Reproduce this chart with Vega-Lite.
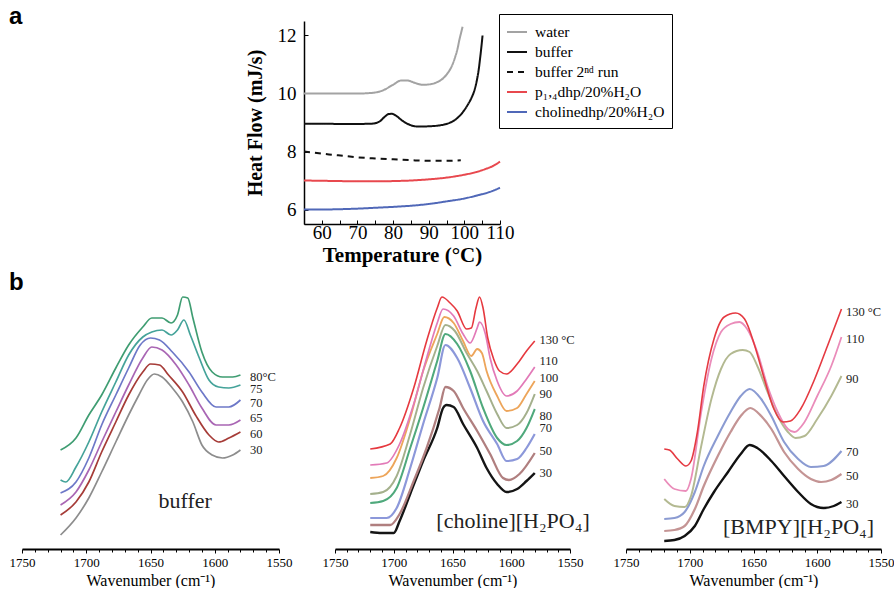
{
  "$schema": "https://vega.github.io/schema/vega-lite/v6.json",
  "background": "white",
  "padding": {"left": 9, "top": 4, "right": 0, "bottom": 0},
  "config": {
    "view": {"stroke": null},
    "font": "Liberation Serif",
    "axis": {"domainColor": "black", "tickColor": "black", "labelColor": "black", "titleColor": "black", "grid": false, "labelFlush": false, "labelOverlap": false}
  },
  "spacing": 6,
  "resolve": {"scale": {"color": "independent", "strokeDash": "independent", "strokeWidth": "independent"}},
  "datasets": {
    "dsc": [
      {"series": "water", "T": 55, "hf": 10.0}, {"series": "water", "T": 60, "hf": 10.0}, {"series": "water", "T": 65, "hf": 10.0}, {"series": "water", "T": 70, "hf": 10.0}, {"series": "water", "T": 74, "hf": 10.02}, {"series": "water", "T": 77, "hf": 10.1}, {"series": "water", "T": 80, "hf": 10.3}, {"series": "water", "T": 82.3, "hf": 10.45}, {"series": "water", "T": 84, "hf": 10.45}, {"series": "water", "T": 86, "hf": 10.37}, {"series": "water", "T": 88.3, "hf": 10.3}, {"series": "water", "T": 90.5, "hf": 10.32}, {"series": "water", "T": 92.5, "hf": 10.4}, {"series": "water", "T": 94, "hf": 10.52}, {"series": "water", "T": 95.3, "hf": 10.7}, {"series": "water", "T": 96.5, "hf": 10.95}, {"series": "water", "T": 97.4, "hf": 11.25}, {"series": "water", "T": 98.1, "hf": 11.55}, {"series": "water", "T": 98.6, "hf": 11.85}, {"series": "water", "T": 99.1, "hf": 12.1}, {"series": "water", "T": 99.5, "hf": 12.3},
      {"series": "buffer", "T": 55, "hf": 8.96}, {"series": "buffer", "T": 60, "hf": 8.96}, {"series": "buffer", "T": 65, "hf": 8.95}, {"series": "buffer", "T": 70, "hf": 8.95}, {"series": "buffer", "T": 74, "hf": 8.96}, {"series": "buffer", "T": 76, "hf": 9.02}, {"series": "buffer", "T": 77.5, "hf": 9.18}, {"series": "buffer", "T": 78.7, "hf": 9.29}, {"series": "buffer", "T": 79.7, "hf": 9.3}, {"series": "buffer", "T": 81, "hf": 9.22}, {"series": "buffer", "T": 82.5, "hf": 9.07}, {"series": "buffer", "T": 84.5, "hf": 8.93}, {"series": "buffer", "T": 87, "hf": 8.86}, {"series": "buffer", "T": 90, "hf": 8.87}, {"series": "buffer", "T": 93, "hf": 8.9}, {"series": "buffer", "T": 95.5, "hf": 8.97}, {"series": "buffer", "T": 97.5, "hf": 9.1}, {"series": "buffer", "T": 99.2, "hf": 9.3}, {"series": "buffer", "T": 100.9, "hf": 9.6}, {"series": "buffer", "T": 102, "hf": 9.85}, {"series": "buffer", "T": 102.8, "hf": 10.1}, {"series": "buffer", "T": 103.5, "hf": 10.45}, {"series": "buffer", "T": 104, "hf": 10.8}, {"series": "buffer", "T": 104.5, "hf": 11.3}, {"series": "buffer", "T": 104.9, "hf": 11.75}, {"series": "buffer", "T": 105.1, "hf": 12.0},
      {"series": "buffer 2ⁿᵈ run", "T": 55, "hf": 8.0}, {"series": "buffer 2ⁿᵈ run", "T": 58, "hf": 7.96}, {"series": "buffer 2ⁿᵈ run", "T": 62, "hf": 7.9}, {"series": "buffer 2ⁿᵈ run", "T": 66, "hf": 7.85}, {"series": "buffer 2ⁿᵈ run", "T": 70, "hf": 7.8}, {"series": "buffer 2ⁿᵈ run", "T": 75, "hf": 7.76}, {"series": "buffer 2ⁿᵈ run", "T": 80, "hf": 7.73}, {"series": "buffer 2ⁿᵈ run", "T": 85, "hf": 7.7}, {"series": "buffer 2ⁿᵈ run", "T": 90, "hf": 7.68}, {"series": "buffer 2ⁿᵈ run", "T": 95, "hf": 7.68}, {"series": "buffer 2ⁿᵈ run", "T": 99, "hf": 7.7},
      {"series": "p₁,₄dhp/20%H₂O", "T": 55, "hf": 7.0}, {"series": "p₁,₄dhp/20%H₂O", "T": 60, "hf": 6.99}, {"series": "p₁,₄dhp/20%H₂O", "T": 65, "hf": 6.98}, {"series": "p₁,₄dhp/20%H₂O", "T": 70, "hf": 6.97}, {"series": "p₁,₄dhp/20%H₂O", "T": 75, "hf": 6.97}, {"series": "p₁,₄dhp/20%H₂O", "T": 80, "hf": 6.98}, {"series": "p₁,₄dhp/20%H₂O", "T": 85, "hf": 7.0}, {"series": "p₁,₄dhp/20%H₂O", "T": 90, "hf": 7.04}, {"series": "p₁,₄dhp/20%H₂O", "T": 95, "hf": 7.1}, {"series": "p₁,₄dhp/20%H₂O", "T": 100, "hf": 7.2}, {"series": "p₁,₄dhp/20%H₂O", "T": 103, "hf": 7.28}, {"series": "p₁,₄dhp/20%H₂O", "T": 106, "hf": 7.4}, {"series": "p₁,₄dhp/20%H₂O", "T": 108, "hf": 7.5}, {"series": "p₁,₄dhp/20%H₂O", "T": 110, "hf": 7.65},
      {"series": "cholinedhp/20%H₂O", "T": 55, "hf": 6.0}, {"series": "cholinedhp/20%H₂O", "T": 60, "hf": 6.0}, {"series": "cholinedhp/20%H₂O", "T": 65, "hf": 6.01}, {"series": "cholinedhp/20%H₂O", "T": 70, "hf": 6.03}, {"series": "cholinedhp/20%H₂O", "T": 75, "hf": 6.06}, {"series": "cholinedhp/20%H₂O", "T": 80, "hf": 6.09}, {"series": "cholinedhp/20%H₂O", "T": 85, "hf": 6.13}, {"series": "cholinedhp/20%H₂O", "T": 90, "hf": 6.19}, {"series": "cholinedhp/20%H₂O", "T": 95, "hf": 6.28}, {"series": "cholinedhp/20%H₂O", "T": 100, "hf": 6.38}, {"series": "cholinedhp/20%H₂O", "T": 104, "hf": 6.5}, {"series": "cholinedhp/20%H₂O", "T": 107, "hf": 6.6}, {"series": "cholinedhp/20%H₂O", "T": 110, "hf": 6.75}
    ],
    "b1": [
      {"temp": "30", "w": 1720, "a": 0.14}, {"temp": "30", "w": 1708, "a": 0.31}, {"temp": "30", "w": 1698, "a": 0.51}, {"temp": "30", "w": 1688, "a": 0.77}, {"temp": "30", "w": 1677, "a": 1.07}, {"temp": "30", "w": 1667, "a": 1.34}, {"temp": "30", "w": 1659, "a": 1.54}, {"temp": "30", "w": 1652.5, "a": 1.69}, {"temp": "30", "w": 1647, "a": 1.75}, {"temp": "30", "w": 1641, "a": 1.72}, {"temp": "30", "w": 1633, "a": 1.61}, {"temp": "30", "w": 1625, "a": 1.47}, {"temp": "30", "w": 1617, "a": 1.27}, {"temp": "30", "w": 1610, "a": 1.04}, {"temp": "30", "w": 1602, "a": 0.94}, {"temp": "30", "w": 1594, "a": 0.91}, {"temp": "30", "w": 1586, "a": 0.94}, {"temp": "30", "w": 1580, "a": 0.99},
      {"temp": "60", "w": 1720, "a": 0.34}, {"temp": "60", "w": 1708, "a": 0.47}, {"temp": "60", "w": 1698, "a": 0.67}, {"temp": "60", "w": 1688, "a": 0.97}, {"temp": "60", "w": 1677, "a": 1.27}, {"temp": "60", "w": 1667, "a": 1.54}, {"temp": "60", "w": 1656, "a": 1.77}, {"temp": "60", "w": 1650, "a": 1.85}, {"temp": "60", "w": 1643, "a": 1.84}, {"temp": "60", "w": 1636, "a": 1.74}, {"temp": "60", "w": 1625, "a": 1.57}, {"temp": "60", "w": 1615, "a": 1.34}, {"temp": "60", "w": 1604.5, "a": 1.14}, {"temp": "60", "w": 1597, "a": 1.07}, {"temp": "60", "w": 1589, "a": 1.11}, {"temp": "60", "w": 1580, "a": 1.17},
      {"temp": "65", "w": 1720, "a": 0.44}, {"temp": "65", "w": 1708, "a": 0.57}, {"temp": "65", "w": 1698, "a": 0.79}, {"temp": "65", "w": 1688, "a": 1.07}, {"temp": "65", "w": 1677, "a": 1.37}, {"temp": "65", "w": 1667, "a": 1.64}, {"temp": "65", "w": 1656, "a": 1.91}, {"temp": "65", "w": 1649, "a": 2.02}, {"temp": "65", "w": 1641, "a": 1.99}, {"temp": "65", "w": 1630, "a": 1.84}, {"temp": "65", "w": 1620, "a": 1.64}, {"temp": "65", "w": 1610, "a": 1.41}, {"temp": "65", "w": 1599, "a": 1.24}, {"temp": "65", "w": 1589, "a": 1.24}, {"temp": "65", "w": 1580, "a": 1.29},
      {"temp": "70", "w": 1720, "a": 0.56}, {"temp": "70", "w": 1708, "a": 0.67}, {"temp": "70", "w": 1698, "a": 0.91}, {"temp": "70", "w": 1688, "a": 1.24}, {"temp": "70", "w": 1677, "a": 1.54}, {"temp": "70", "w": 1667, "a": 1.81}, {"temp": "70", "w": 1658, "a": 2.04}, {"temp": "70", "w": 1650, "a": 2.11}, {"temp": "70", "w": 1643, "a": 2.09}, {"temp": "70", "w": 1633, "a": 1.97}, {"temp": "70", "w": 1620, "a": 1.77}, {"temp": "70", "w": 1610, "a": 1.57}, {"temp": "70", "w": 1599, "a": 1.42}, {"temp": "70", "w": 1589, "a": 1.42}, {"temp": "70", "w": 1580, "a": 1.49},
      {"temp": "75", "w": 1720, "a": 0.69}, {"temp": "75", "w": 1716, "a": 0.67}, {"temp": "75", "w": 1708, "a": 0.82}, {"temp": "75", "w": 1698, "a": 1.07}, {"temp": "75", "w": 1688, "a": 1.37}, {"temp": "75", "w": 1677, "a": 1.67}, {"temp": "75", "w": 1667, "a": 1.94}, {"temp": "75", "w": 1656, "a": 2.12}, {"temp": "75", "w": 1649, "a": 2.17}, {"temp": "75", "w": 1641, "a": 2.19}, {"temp": "75", "w": 1634, "a": 2.14}, {"temp": "75", "w": 1629, "a": 2.19}, {"temp": "75", "w": 1624, "a": 2.29}, {"temp": "75", "w": 1619, "a": 2.14}, {"temp": "75", "w": 1612, "a": 1.91}, {"temp": "75", "w": 1604.5, "a": 1.69}, {"temp": "75", "w": 1597, "a": 1.62}, {"temp": "75", "w": 1589, "a": 1.61}, {"temp": "75", "w": 1580, "a": 1.64},
      {"temp": "80", "w": 1720, "a": 0.99}, {"temp": "80", "w": 1708, "a": 1.11}, {"temp": "80", "w": 1698, "a": 1.34}, {"temp": "80", "w": 1688, "a": 1.54}, {"temp": "80", "w": 1677, "a": 1.81}, {"temp": "80", "w": 1667, "a": 2.04}, {"temp": "80", "w": 1656, "a": 2.22}, {"temp": "80", "w": 1649, "a": 2.31}, {"temp": "80", "w": 1641, "a": 2.31}, {"temp": "80", "w": 1634, "a": 2.26}, {"temp": "80", "w": 1629, "a": 2.34}, {"temp": "80", "w": 1625, "a": 2.52}, {"temp": "80", "w": 1621, "a": 2.51}, {"temp": "80", "w": 1617, "a": 2.31}, {"temp": "80", "w": 1610, "a": 1.97}, {"temp": "80", "w": 1602, "a": 1.77}, {"temp": "80", "w": 1594, "a": 1.72}, {"temp": "80", "w": 1586, "a": 1.72}, {"temp": "80", "w": 1580, "a": 1.74}
    ],
    "b1lab": [
      {"w": 1572.5, "a": 1.72, "label": "80°C"}, {"w": 1572.5, "a": 1.60, "label": "75"}, {"w": 1572.5, "a": 1.46, "label": "70"}, {"w": 1572.5, "a": 1.31, "label": "65"}, {"w": 1572.5, "a": 1.15, "label": "60"}, {"w": 1572.5, "a": 0.99, "label": "30"}
    ],
    "b2": [
      {"temp": "30", "w": 1720, "a": 0.17}, {"temp": "30", "w": 1710, "a": 0.16}, {"temp": "30", "w": 1700, "a": 0.16}, {"temp": "30", "w": 1695, "a": 0.28}, {"temp": "30", "w": 1686, "a": 0.55}, {"temp": "30", "w": 1675, "a": 0.88}, {"temp": "30", "w": 1663, "a": 1.21}, {"temp": "30", "w": 1658, "a": 1.41}, {"temp": "30", "w": 1655, "a": 1.44}, {"temp": "30", "w": 1649, "a": 1.42}, {"temp": "30", "w": 1641, "a": 1.25}, {"temp": "30", "w": 1629, "a": 1.01}, {"temp": "30", "w": 1621, "a": 0.81}, {"temp": "30", "w": 1612, "a": 0.65}, {"temp": "30", "w": 1604, "a": 0.57}, {"temp": "30", "w": 1595, "a": 0.60}, {"temp": "30", "w": 1587, "a": 0.68}, {"temp": "30", "w": 1580, "a": 0.76},
      {"temp": "50", "w": 1720, "a": 0.24}, {"temp": "50", "w": 1703, "a": 0.24}, {"temp": "50", "w": 1695, "a": 0.35}, {"temp": "50", "w": 1683, "a": 0.68}, {"temp": "50", "w": 1672, "a": 1.01}, {"temp": "50", "w": 1661, "a": 1.41}, {"temp": "50", "w": 1656, "a": 1.62}, {"temp": "50", "w": 1649, "a": 1.58}, {"temp": "50", "w": 1641, "a": 1.41}, {"temp": "50", "w": 1629, "a": 1.18}, {"temp": "50", "w": 1618, "a": 0.95}, {"temp": "50", "w": 1607, "a": 0.71}, {"temp": "50", "w": 1602, "a": 0.69}, {"temp": "50", "w": 1593, "a": 0.75}, {"temp": "50", "w": 1580, "a": 0.96},
      {"temp": "70", "w": 1720, "a": 0.31}, {"temp": "70", "w": 1706, "a": 0.31}, {"temp": "70", "w": 1697.5, "a": 0.41}, {"temp": "70", "w": 1686, "a": 0.81}, {"temp": "70", "w": 1675, "a": 1.25}, {"temp": "70", "w": 1663, "a": 1.71}, {"temp": "70", "w": 1656, "a": 2.04}, {"temp": "70", "w": 1646, "a": 1.91}, {"temp": "70", "w": 1635, "a": 1.61}, {"temp": "70", "w": 1624, "a": 1.28}, {"temp": "70", "w": 1612, "a": 1.05}, {"temp": "70", "w": 1604, "a": 0.88}, {"temp": "70", "w": 1595, "a": 0.90}, {"temp": "70", "w": 1587, "a": 1.01}, {"temp": "70", "w": 1580, "a": 1.15},
      {"temp": "80", "w": 1720, "a": 0.46}, {"temp": "80", "w": 1709, "a": 0.48}, {"temp": "80", "w": 1697.5, "a": 0.61}, {"temp": "80", "w": 1686, "a": 1.01}, {"temp": "80", "w": 1675, "a": 1.41}, {"temp": "80", "w": 1663, "a": 1.88}, {"temp": "80", "w": 1656, "a": 2.15}, {"temp": "80", "w": 1646, "a": 2.05}, {"temp": "80", "w": 1635, "a": 1.78}, {"temp": "80", "w": 1624, "a": 1.41}, {"temp": "80", "w": 1612, "a": 1.11}, {"temp": "80", "w": 1604, "a": 1.04}, {"temp": "80", "w": 1595, "a": 1.08}, {"temp": "80", "w": 1587, "a": 1.21}, {"temp": "80", "w": 1580, "a": 1.40},
      {"temp": "90", "w": 1720, "a": 0.55}, {"temp": "90", "w": 1709, "a": 0.57}, {"temp": "90", "w": 1697.5, "a": 0.73}, {"temp": "90", "w": 1686, "a": 1.15}, {"temp": "90", "w": 1675, "a": 1.61}, {"temp": "90", "w": 1663, "a": 2.03}, {"temp": "90", "w": 1656, "a": 2.24}, {"temp": "90", "w": 1648, "a": 2.18}, {"temp": "90", "w": 1638, "a": 1.96}, {"temp": "90", "w": 1629, "a": 1.78}, {"temp": "90", "w": 1621, "a": 1.58}, {"temp": "90", "w": 1612, "a": 1.35}, {"temp": "90", "w": 1604, "a": 1.21}, {"temp": "90", "w": 1595, "a": 1.24}, {"temp": "90", "w": 1587, "a": 1.36}, {"temp": "90", "w": 1580, "a": 1.55},
      {"temp": "100", "w": 1720, "a": 0.71}, {"temp": "100", "w": 1709, "a": 0.73}, {"temp": "100", "w": 1697.5, "a": 0.91}, {"temp": "100", "w": 1686, "a": 1.31}, {"temp": "100", "w": 1675, "a": 1.78}, {"temp": "100", "w": 1663, "a": 2.15}, {"temp": "100", "w": 1657, "a": 2.32}, {"temp": "100", "w": 1649, "a": 2.26}, {"temp": "100", "w": 1641, "a": 2.08}, {"temp": "100", "w": 1634, "a": 1.93}, {"temp": "100", "w": 1629, "a": 2.0}, {"temp": "100", "w": 1625, "a": 1.96}, {"temp": "100", "w": 1621, "a": 1.78}, {"temp": "100", "w": 1612, "a": 1.53}, {"temp": "100", "w": 1604, "a": 1.38}, {"temp": "100", "w": 1595, "a": 1.41}, {"temp": "100", "w": 1587, "a": 1.55}, {"temp": "100", "w": 1580, "a": 1.68},
      {"temp": "110", "w": 1720, "a": 0.84}, {"temp": "110", "w": 1706, "a": 0.86}, {"temp": "110", "w": 1695, "a": 1.05}, {"temp": "110", "w": 1683, "a": 1.45}, {"temp": "110", "w": 1672, "a": 1.91}, {"temp": "110", "w": 1663, "a": 2.26}, {"temp": "110", "w": 1658, "a": 2.40}, {"temp": "110", "w": 1649, "a": 2.33}, {"temp": "110", "w": 1641, "a": 2.15}, {"temp": "110", "w": 1635, "a": 2.06}, {"temp": "110", "w": 1629, "a": 2.21}, {"temp": "110", "w": 1627, "a": 2.27}, {"temp": "110", "w": 1622, "a": 2.15}, {"temp": "110", "w": 1618, "a": 1.91}, {"temp": "110", "w": 1612, "a": 1.68}, {"temp": "110", "w": 1604, "a": 1.53}, {"temp": "110", "w": 1595, "a": 1.58}, {"temp": "110", "w": 1587, "a": 1.70}, {"temp": "110", "w": 1580, "a": 1.82},
      {"temp": "130", "w": 1720, "a": 1.0}, {"temp": "130", "w": 1703, "a": 1.05}, {"temp": "130", "w": 1695, "a": 1.21}, {"temp": "130", "w": 1683, "a": 1.61}, {"temp": "130", "w": 1672, "a": 2.08}, {"temp": "130", "w": 1663, "a": 2.41}, {"temp": "130", "w": 1659, "a": 2.52}, {"temp": "130", "w": 1652, "a": 2.46}, {"temp": "130", "w": 1646, "a": 2.38}, {"temp": "130", "w": 1638, "a": 2.20}, {"temp": "130", "w": 1634, "a": 2.21}, {"temp": "130", "w": 1630, "a": 2.41}, {"temp": "130", "w": 1627, "a": 2.52}, {"temp": "130", "w": 1624, "a": 2.41}, {"temp": "130", "w": 1620, "a": 2.11}, {"temp": "130", "w": 1615, "a": 1.90}, {"temp": "130", "w": 1610, "a": 1.78}, {"temp": "130", "w": 1604, "a": 1.75}, {"temp": "130", "w": 1595, "a": 1.85}, {"temp": "130", "w": 1587, "a": 1.98}, {"temp": "130", "w": 1580, "a": 2.08}
    ],
    "b2lab": [
      {"w": 1576, "a": 2.09, "label": "130 °C"}, {"w": 1576, "a": 1.88, "label": "110"}, {"w": 1576, "a": 1.71, "label": "100"}, {"w": 1576, "a": 1.55, "label": "90"}, {"w": 1576, "a": 1.33, "label": "80"}, {"w": 1576, "a": 1.21, "label": "70"}, {"w": 1576, "a": 0.98, "label": "50"}, {"w": 1576, "a": 0.76, "label": "30"}
    ],
    "b3": [
      {"temp": "30", "w": 1720, "a": 0.08}, {"temp": "30", "w": 1712, "a": 0.09}, {"temp": "30", "w": 1704, "a": 0.13}, {"temp": "30", "w": 1696, "a": 0.23}, {"temp": "30", "w": 1689, "a": 0.40}, {"temp": "30", "w": 1681, "a": 0.57}, {"temp": "30", "w": 1670, "a": 0.77}, {"temp": "30", "w": 1660, "a": 0.95}, {"temp": "30", "w": 1653, "a": 1.04}, {"temp": "30", "w": 1647, "a": 1.01}, {"temp": "30", "w": 1636, "a": 0.88}, {"temp": "30", "w": 1626, "a": 0.73}, {"temp": "30", "w": 1615, "a": 0.57}, {"temp": "30", "w": 1605, "a": 0.45}, {"temp": "30", "w": 1595, "a": 0.41}, {"temp": "30", "w": 1587, "a": 0.43}, {"temp": "30", "w": 1581, "a": 0.47},
      {"temp": "50", "w": 1720, "a": 0.18}, {"temp": "50", "w": 1712, "a": 0.19}, {"temp": "50", "w": 1704, "a": 0.23}, {"temp": "50", "w": 1696, "a": 0.40}, {"temp": "50", "w": 1689, "a": 0.63}, {"temp": "50", "w": 1678, "a": 0.93}, {"temp": "50", "w": 1668, "a": 1.17}, {"temp": "50", "w": 1660, "a": 1.33}, {"temp": "50", "w": 1652.5, "a": 1.41}, {"temp": "50", "w": 1644, "a": 1.33}, {"temp": "50", "w": 1636, "a": 1.20}, {"temp": "50", "w": 1626, "a": 0.97}, {"temp": "50", "w": 1615, "a": 0.80}, {"temp": "50", "w": 1605, "a": 0.70}, {"temp": "50", "w": 1597, "a": 0.67}, {"temp": "50", "w": 1589, "a": 0.69}, {"temp": "50", "w": 1581, "a": 0.75},
      {"temp": "70", "w": 1720, "a": 0.30}, {"temp": "70", "w": 1712, "a": 0.31}, {"temp": "70", "w": 1704, "a": 0.37}, {"temp": "70", "w": 1696, "a": 0.57}, {"temp": "70", "w": 1689, "a": 0.83}, {"temp": "70", "w": 1678, "a": 1.13}, {"temp": "70", "w": 1668, "a": 1.37}, {"temp": "70", "w": 1660, "a": 1.53}, {"temp": "70", "w": 1653, "a": 1.60}, {"temp": "70", "w": 1644, "a": 1.50}, {"temp": "70", "w": 1636, "a": 1.33}, {"temp": "70", "w": 1626, "a": 1.07}, {"temp": "70", "w": 1615, "a": 0.90}, {"temp": "70", "w": 1605, "a": 0.82}, {"temp": "70", "w": 1595, "a": 0.83}, {"temp": "70", "w": 1581, "a": 0.98},
      {"temp": "90", "w": 1720, "a": 0.50}, {"temp": "90", "w": 1712, "a": 0.43}, {"temp": "90", "w": 1704, "a": 0.42}, {"temp": "90", "w": 1699, "a": 0.53}, {"temp": "90", "w": 1691, "a": 1.03}, {"temp": "90", "w": 1683, "a": 1.50}, {"temp": "90", "w": 1675.5, "a": 1.80}, {"temp": "90", "w": 1668, "a": 1.95}, {"temp": "90", "w": 1658.5, "a": 1.99}, {"temp": "90", "w": 1653, "a": 1.97}, {"temp": "90", "w": 1647, "a": 1.83}, {"temp": "90", "w": 1639, "a": 1.57}, {"temp": "90", "w": 1631, "a": 1.33}, {"temp": "90", "w": 1623, "a": 1.17}, {"temp": "90", "w": 1617, "a": 1.11}, {"temp": "90", "w": 1610, "a": 1.13}, {"temp": "90", "w": 1600, "a": 1.30}, {"temp": "90", "w": 1589, "a": 1.53}, {"temp": "90", "w": 1581, "a": 1.73},
      {"temp": "110", "w": 1720, "a": 0.70}, {"temp": "110", "w": 1712, "a": 0.60}, {"temp": "110", "w": 1703, "a": 0.58}, {"temp": "110", "w": 1699, "a": 0.70}, {"temp": "110", "w": 1691, "a": 1.37}, {"temp": "110", "w": 1683, "a": 1.90}, {"temp": "110", "w": 1675.5, "a": 2.17}, {"temp": "110", "w": 1668, "a": 2.25}, {"temp": "110", "w": 1661, "a": 2.27}, {"temp": "110", "w": 1655, "a": 2.20}, {"temp": "110", "w": 1647, "a": 1.97}, {"temp": "110", "w": 1639, "a": 1.63}, {"temp": "110", "w": 1631, "a": 1.37}, {"temp": "110", "w": 1623, "a": 1.20}, {"temp": "110", "w": 1618, "a": 1.17}, {"temp": "110", "w": 1610, "a": 1.27}, {"temp": "110", "w": 1600, "a": 1.53}, {"temp": "110", "w": 1589, "a": 1.83}, {"temp": "110", "w": 1581, "a": 2.12},
      {"temp": "130", "w": 1720, "a": 1.00}, {"temp": "130", "w": 1716, "a": 0.99}, {"temp": "130", "w": 1709.5, "a": 0.90}, {"temp": "130", "w": 1703, "a": 0.83}, {"temp": "130", "w": 1699, "a": 0.88}, {"temp": "130", "w": 1694, "a": 1.17}, {"temp": "130", "w": 1689, "a": 1.63}, {"temp": "130", "w": 1681, "a": 2.10}, {"temp": "130", "w": 1673, "a": 2.32}, {"temp": "130", "w": 1664, "a": 2.36}, {"temp": "130", "w": 1657, "a": 2.30}, {"temp": "130", "w": 1649, "a": 2.03}, {"temp": "130", "w": 1641.5, "a": 1.70}, {"temp": "130", "w": 1634, "a": 1.40}, {"temp": "130", "w": 1627, "a": 1.27}, {"temp": "130", "w": 1621, "a": 1.28}, {"temp": "130", "w": 1613, "a": 1.40}, {"temp": "130", "w": 1602, "a": 1.70}, {"temp": "130", "w": 1592, "a": 2.03}, {"temp": "130", "w": 1581, "a": 2.40}
    ],
    "b3lab": [
      {"w": 1577.5, "a": 2.37, "label": "130 °C"}, {"w": 1577.5, "a": 2.10, "label": "110"}, {"w": 1577.5, "a": 1.70, "label": "90"}, {"w": 1577.5, "a": 0.97, "label": "70"}, {"w": 1577.5, "a": 0.73, "label": "50"}, {"w": 1577.5, "a": 0.45, "label": "30"}
    ],
    "names": [
      {"w": 1623, "a": 0.48, "label": "buffer", "panel": "b1"},
      {"w": 1598.5, "a": 0.28, "label": "[choline][H₂PO₄]", "panel": "b2"},
      {"w": 1614.7, "a": 0.22, "label": "[BMPY][H₂PO₄]", "panel": "b3"}
    ]
  },
  "vconcat": [
    {
      "title": {"text": "a", "anchor": "start", "dx": -13, "font": "Liberation Sans", "fontSize": 24, "fontWeight": "bold", "color": "black", "offset": -15},
      "spacing": 10,
      "resolve": {"scale": {"color": "independent", "strokeDash": "independent"}, "legend": {"color": "independent", "strokeDash": "independent"}},
      "hconcat": [
        {
          "width": 213,
          "height": 203,
          "data": {"values": [{"label": ""}]},
          "mark": {"type": "text"},
          "encoding": {"text": {"field": "label"}}
        },
        {
          "width": 196,
          "height": 203,
          "data": {"name": "dsc"},
          "mark": {"type": "line", "strokeWidth": 2, "interpolate": "monotone"},
          "encoding": {
            "x": {"field": "T", "type": "quantitative", "scale": {"domain": [55, 110], "nice": false, "zero": false},
              "axis": {"values": [55, 60, 65, 70, 75, 80, 85, 90, 95, 100, 105, 110], "labelExpr": "datum.value % 10 === 0 ? datum.label : ''", "labelOverlap": false, "tickSize": -4, "labelPadding": 3, "domainWidth": 1.5, "labelFont": "Liberation Serif", "labelFontSize": 19, "title": "Temperature (°C)", "titleFont": "Liberation Serif", "titleFontSize": 21, "titleFontWeight": "bold", "titlePadding": 2}},
            "y": {"field": "hf", "type": "quantitative", "scale": {"domain": [5.5, 12.5], "nice": false, "zero": false},
              "axis": {"values": [6, 8, 10, 12], "labelOverlap": false, "tickSize": -4, "labelPadding": 12, "domainWidth": 1.5, "labelFont": "Liberation Serif", "labelFontSize": 19, "title": "Heat Flow (mJ/s)", "titleFont": "Liberation Serif", "titleFontSize": 20, "titleFontWeight": "bold", "titlePadding": 12}},
            "color": {"field": "series", "type": "nominal",
              "scale": {"domain": ["water", "buffer", "buffer 2ⁿᵈ run", "p₁,₄dhp/20%H₂O", "cholinedhp/20%H₂O"], "range": ["#a3a3a3", "#111111", "#111111", "#e8484e", "#5068b8"]},
              "legend": {"orient": "none", "legendX": 195, "legendY": -7, "title": null, "strokeColor": "black", "padding": 7, "symbolType": "stroke", "symbolSize": 400, "symbolStrokeWidth": 2, "labelFont": "Liberation Serif", "labelFontSize": 15.5, "labelColor": "black", "rowPadding": -1.5, "labelOffset": 7}},
            "strokeDash": {"field": "series", "type": "nominal",
              "scale": {"domain": ["water", "buffer", "buffer 2ⁿᵈ run", "p₁,₄dhp/20%H₂O", "cholinedhp/20%H₂O"], "range": [[1, 0], [1, 0], [6, 5], [1, 0], [1, 0]]},
              "legend": {"orient": "none", "legendX": 195, "legendY": -7, "title": null, "strokeColor": "black", "padding": 7, "symbolType": "stroke", "symbolSize": 400, "symbolStrokeWidth": 2, "labelFont": "Liberation Serif", "labelFontSize": 15.5, "labelColor": "black", "rowPadding": -1.5, "labelOffset": 7}}
          }
        }
      ]
    },
    {
      "title": {"text": "b", "anchor": "start", "font": "Liberation Sans", "fontSize": 24, "fontWeight": "bold", "color": "black", "offset": -11},
      "columns": 3,
      "align": "each",
      "bounds": "flush",
      "spacing": 56,
      "resolve": {"scale": {"color": "independent", "strokeWidth": "independent"}},
      "concat": [
        {
          "width": 257, "height": 265,
          "resolve": {"axis": {"x": "independent"}},
          "layer": [
            {"data": {"name": "b1"}, "mark": {"type": "line", "interpolate": "monotone", "strokeWidth": 1.7},
              "encoding": {
                "x": {"field": "w", "type": "quantitative", "scale": {"domain": [1550, 1750], "reverse": true, "nice": false, "zero": false},
                  "axis": {"orient": "bottom", "values": [1550, 1600, 1650, 1700, 1750], "format": "d", "tickSize": 4, "domainWidth": 2, "labelFont": "Liberation Serif", "labelFontSize": 13, "labelPadding": 3, "title": "Wavenumber (cm⁻¹)", "titleFont": "Liberation Serif", "titleFontSize": 16, "titleFontWeight": "normal", "titlePadding": 3}},
                "y": {"field": "a", "type": "quantitative", "scale": {"domain": [0, 2.65], "nice": false, "zero": false}, "axis": null},
                "color": {"field": "temp", "type": "nominal", "scale": {"domain": ["30", "60", "65", "70", "75", "80"], "range": ["#8d8d8d", "#a63c38", "#a966b4", "#6d78c8", "#45a39a", "#3f9d72"]}, "legend": null}
              }},
            {"data": {"name": "b1lab"}, "mark": {"type": "text", "align": "left", "baseline": "middle", "font": "Liberation Serif", "fontSize": 12.5, "color": "#222222"},
              "encoding": {"x": {"field": "w", "type": "quantitative", "axis": {"orient": "bottom", "values": [1560, 1570, 1580, 1590, 1610, 1620, 1630, 1640, 1660, 1670, 1680, 1690, 1710, 1720, 1730, 1740], "labels": false, "title": null, "domain": false, "tickSize": 3}}, "y": {"field": "a", "type": "quantitative"}, "text": {"field": "label"}}},
            {"data": {"name": "names"}, "transform": [{"filter": "datum.panel === 'b1'"}], "mark": {"type": "text", "align": "center", "baseline": "middle", "font": "Liberation Serif", "fontSize": 22, "color": "#222222"},
              "encoding": {"x": {"field": "w", "type": "quantitative", "axis": null}, "y": {"field": "a", "type": "quantitative"}, "text": {"field": "label"}}}
          ]
        },
        {
          "width": 235, "height": 265,
          "resolve": {"axis": {"x": "independent"}},
          "layer": [
            {"data": {"name": "b2"}, "mark": {"type": "line", "interpolate": "monotone"},
              "encoding": {
                "x": {"field": "w", "type": "quantitative", "scale": {"domain": [1550, 1750], "reverse": true, "nice": false, "zero": false},
                  "axis": {"orient": "bottom", "values": [1550, 1600, 1650, 1700, 1750], "format": "d", "tickSize": 4, "domainWidth": 2, "labelFont": "Liberation Serif", "labelFontSize": 13, "labelPadding": 3, "title": "Wavenumber (cm⁻¹)", "titleFont": "Liberation Serif", "titleFontSize": 16, "titleFontWeight": "normal", "titlePadding": 3}},
                "y": {"field": "a", "type": "quantitative", "scale": {"domain": [0, 2.65], "nice": false, "zero": false}, "axis": null},
                "color": {"field": "temp", "type": "nominal", "scale": {"domain": ["30", "50", "70", "80", "90", "100", "110", "130"], "range": ["#151515", "#b07f7f", "#8c98da", "#4fa97c", "#a4b08c", "#eda55a", "#e27ab8", "#e6393f"]}, "legend": null},
                "strokeWidth": {"field": "temp", "type": "nominal", "scale": {"domain": ["30", "50", "70", "80", "90", "100", "110", "130"], "range": [2.4, 1.6, 1.6, 1.6, 1.6, 1.6, 1.6, 2.4]}, "legend": null}
              }},
            {"data": {"name": "b2lab"}, "mark": {"type": "text", "align": "left", "baseline": "middle", "font": "Liberation Serif", "fontSize": 12.5, "color": "#222222"},
              "encoding": {"x": {"field": "w", "type": "quantitative", "axis": {"orient": "bottom", "values": [1560, 1570, 1580, 1590, 1610, 1620, 1630, 1640, 1660, 1670, 1680, 1690, 1710, 1720, 1730, 1740], "labels": false, "title": null, "domain": false, "tickSize": 3}}, "y": {"field": "a", "type": "quantitative"}, "text": {"field": "label"}}},
            {"data": {"name": "names"}, "transform": [{"filter": "datum.panel === 'b2'"}], "mark": {"type": "text", "align": "center", "baseline": "middle", "font": "Liberation Serif", "fontSize": 22, "color": "#222222"},
              "encoding": {"x": {"field": "w", "type": "quantitative", "axis": null}, "y": {"field": "a", "type": "quantitative"}, "text": {"field": "label"}}}
          ]
        },
        {
          "width": 255, "height": 265,
          "resolve": {"axis": {"x": "independent"}},
          "layer": [
            {"data": {"name": "b3"}, "mark": {"type": "line", "interpolate": "monotone"},
              "encoding": {
                "x": {"field": "w", "type": "quantitative", "scale": {"domain": [1550, 1750], "reverse": true, "nice": false, "zero": false},
                  "axis": {"orient": "bottom", "values": [1550, 1600, 1650, 1700, 1750], "format": "d", "tickSize": 4, "domainWidth": 2, "labelFont": "Liberation Serif", "labelFontSize": 13, "labelPadding": 3, "title": "Wavenumber (cm⁻¹)", "titleFont": "Liberation Serif", "titleFontSize": 16, "titleFontWeight": "normal", "titlePadding": 3}},
                "y": {"field": "a", "type": "quantitative", "scale": {"domain": [0, 2.65], "nice": false, "zero": false}, "axis": null},
                "color": {"field": "temp", "type": "nominal", "scale": {"domain": ["30", "50", "70", "90", "110", "130"], "range": ["#111111", "#c49494", "#8b9bd2", "#b3b991", "#ea8cba", "#e53a42"]}, "legend": null},
                "strokeWidth": {"field": "temp", "type": "nominal", "scale": {"domain": ["30", "50", "70", "90", "110", "130"], "range": [2.4, 1.6, 1.6, 1.6, 1.6, 2.4]}, "legend": null}
              }},
            {"data": {"name": "b3lab"}, "mark": {"type": "text", "align": "left", "baseline": "middle", "font": "Liberation Serif", "fontSize": 12.5, "color": "#222222"},
              "encoding": {"x": {"field": "w", "type": "quantitative", "axis": {"orient": "bottom", "values": [1560, 1570, 1580, 1590, 1610, 1620, 1630, 1640, 1660, 1670, 1680, 1690, 1710, 1720, 1730, 1740], "labels": false, "title": null, "domain": false, "tickSize": 3}}, "y": {"field": "a", "type": "quantitative"}, "text": {"field": "label"}}},
            {"data": {"name": "names"}, "transform": [{"filter": "datum.panel === 'b3'"}], "mark": {"type": "text", "align": "center", "baseline": "middle", "font": "Liberation Serif", "fontSize": 22, "color": "#222222"},
              "encoding": {"x": {"field": "w", "type": "quantitative", "axis": null}, "y": {"field": "a", "type": "quantitative"}, "text": {"field": "label"}}}
          ]
        }
      ]
    }
  ]
}
